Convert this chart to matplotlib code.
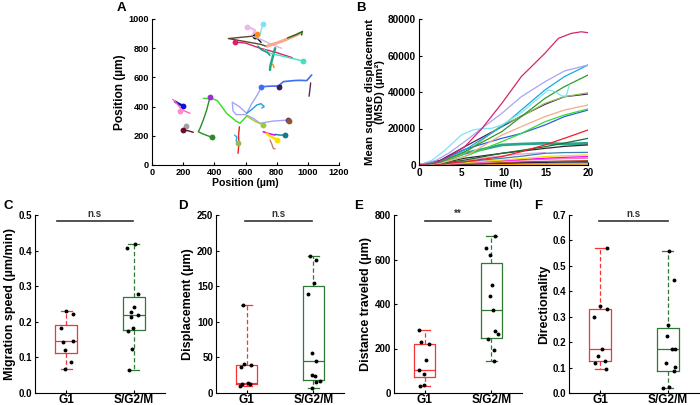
import matplotlib
matplotlib.use('Agg')
import matplotlib.pyplot as plt
import numpy as np

plt.rcParams['font.family'] = ['Liberation Sans', 'DejaVu Sans']
plt.rcParams['font.weight'] = 'bold'
plt.rcParams['axes.labelweight'] = 'bold'
plt.rcParams['axes.linewidth'] = 0.8

# ---------------- Panel A: trajectories (x, y in um) ----------------
trajA = [
    # (points, color, dot index or None, linewidth)
    ([(661, 884), (490, 866), (700, 826), (740, 810)], '#5a4a2a', None, 1.0),
    ([(661, 884), (675, 868), (690, 852), (700, 840)], '#111111', 0, 1.0),
    ([(612, 948), (645, 932), (662, 922), (650, 900)], '#f0b4ee', 0, 1.6),
    ([(714, 964), (702, 930), (693, 890), (680, 870)], '#7fe3f7', 0, 1.0),
    ([(672, 897), (665, 880)], '#ff8c1a', 0, 1.0),
    ([(533, 842), (600, 835), (693, 800), (800, 770), (900, 735)], '#d6246e', 0, 1.0),
    ([(650, 880), (700, 860), (760, 830), (830, 800)], '#c8b8f0', None, 1.0),
    ([(740, 815), (800, 835), (850, 855), (900, 878), (950, 902)], '#f7a98b', None, 2.2),
    ([(870, 870), (930, 895), (965, 915), (960, 890)], '#1a6b1a', None, 1.0),
    ([(790, 800), (780, 760), (770, 720), (760, 680), (757, 651)], '#22a884', None, 1.8),
    ([(971, 712), (900, 730), (820, 750), (757, 765), (720, 790)], '#40e0c0', 0, 1.0),
    ([(680, 815), (700, 790), (740, 770), (757, 750)], '#14967e', None, 1.0),
    ([(783, 668), (775, 690)], '#e89c2c', None, 1.2),
    ([(699, 536), (760, 540), (811, 541), (843, 571), (880, 575), (907, 578),
      (950, 580), (993, 578), (1025, 617)], '#3f6df5', 0, 1.2),
    ([(1018, 562), (1015, 530), (1008, 471)], '#5a2a5a', None, 1.0),
    ([(815, 536), (830, 545)], '#3d1f4d', 0, 1.0),
    ([(693, 514), (670, 470), (640, 420), (608, 354), (560, 400), (515, 430),
      (520, 370), (540, 345), (600, 345), (650, 320), (693, 286), (778, 301),
      (875, 308)], '#a9a3f5', None, 1.0),
    ([(608, 354), (640, 380), (672, 411), (700, 420), (720, 400), (705, 390)], '#21a0d8', None, 1.0),
    ([(329, 457), (393, 452), (420, 440), (479, 354), (540, 300), (565, 286),
      (608, 335)], '#33dd22', None, 1.0),
    ([(383, 190), (329, 212), (297, 228), (308, 251), (329, 308), (351, 377),
      (372, 464)], '#2a8a2a', 0, 1.0),
    ([(372, 464)], '#9a30d0', 0, 1.0),
    ([(197, 406), (170, 420), (148, 434)], '#1010d0', 0, 1.8),
    ([(133, 450), (160, 420), (190, 380), (220, 365), (244, 354)], '#ff69b4', None, 1.0),
    ([(180, 370)], '#ff8ccf', 0, 1.0),
    ([(218, 267)], '#a0a0a0', 0, 1.0),
    ([(197, 240), (230, 235), (265, 224)], '#6a0d2a', 0, 1.0),
    ([(561, 262), (555, 200), (558, 150), (554, 103), (552, 80)], '#e82020', None, 1.0),
    ([(530, 205), (545, 190), (540, 165), (548, 150)], '#22aaee', None, 1.0),
    ([(554, 148)], '#8fbf50', 0, 1.0),
    ([(608, 335), (660, 300), (714, 274)], '#9acd32', 2, 1.0),
    ([(714, 228), (750, 215), (789, 205)], '#ff00ff', None, 1.2),
    ([(800, 171), (790, 180), (760, 195), (735, 215)], '#f5e400', 0, 1.8),
    ([(853, 205), (820, 205), (790, 210)], '#157a8a', 0, 1.0),
    ([(757, 172), (770, 140), (778, 114), (790, 110)], '#c08070', None, 1.0),
    ([(875, 308)], '#6e3a6a', 0, 1.0),
    ([(880, 300)], '#8b5a2b', 0, 1.0),
]

# ---------------- Panel B: MSD curves ----------------
msd_crimson_t = [0, 2, 3.5, 5.4, 7.4, 9.8, 12.1, 14.9, 16.5, 18, 19.2, 20]
msd_crimson = [0, 1200, 4500, 10000, 19700, 33800, 48400, 61200, 69400, 72100, 73000, 72500]
msd_lav_t = [0, 2, 3.5, 5.4, 7.4, 9.8, 12.1, 14.9, 17.2, 20]
msd_lav = [0, 2500, 6400, 12800, 20000, 28300, 37400, 45600, 51500, 54800]
msd_cyan_t = [0, 1.5, 3.1, 5.0, 6.4, 7.4, 8.6, 9.8, 12.1, 14.1, 15.3, 16.1, 16.9, 17.4, 17.8]
msd_cyan = [0, 2500, 8200, 16400, 19200, 19900, 20100, 21900, 28700, 36500, 41100, 40200, 37800, 37800, 43800]
msd_t = [0, 2.5, 5.4, 9.8, 12.1, 14.9, 17.2, 20]
msd_sky = [0, 2000, 8200, 21000, 30100, 41100, 48400, 54800]
msd_forest = [0, 1500, 7300, 18300, 26500, 36500, 42900, 49300]
msd_olive = [0, 1500, 6400, 21900, 26500, 33800, 37400, 39600]
msd_purple = [0, 2500, 10000, 21000, 26800, 33200, 37400, 38900]
msd_salmon = [0, 1000, 4600, 16400, 21000, 26500, 30100, 32900]
msd_lime = [0, 1000, 4600, 12800, 17300, 23700, 27400, 30700]
msd_royal = [0, 2500, 8600, 14600, 17300, 21900, 26500, 30100]
msd_red = [0, 500, 1800, 4600, 7300, 11000, 14600, 19200]
msd_teal = [0, 1500, 6400, 11000, 11500, 11900, 11500, 11900]
msd_dkgreen = [0, 800, 2700, 6400, 8000, 10000, 12000, 14600]
msd_black = [0, 900, 3700, 6400, 7600, 9100, 10200, 11000]
msd_steel = [0, 500, 1800, 3700, 4800, 6400, 6800, 6900]
msd_yellow = [0, 400, 1300, 2700, 3500, 4600, 5100, 5500]
msd_magenta = [0, 400, 1300, 2400, 3000, 3700, 4200, 4600]
msd_pink = [0, 300, 1000, 2000, 2600, 3100, 3500, 3700]
msd_sienna = [0, 200, 700, 1300, 1700, 2000, 2200, 2400]
msd_navy = [0, 150, 500, 1000, 1300, 1500, 1700, 1800]
msd_gray = [0, 100, 400, 800, 1000, 1100, 1200, 1300]
msd_orange = [0, 50, 200, 350, 400, 450, 500, 550]
msd_tan = [0, 40, 150, 250, 300, 330, 360, 400]
msd_plum_t = [0, 2.5, 5.4, 9.8, 12.1, 14.9]
msd_plum = [0, 800, 2500, 5000, 6000, 6800]

# ---------------- Panels C-F: box plots ----------------
groups = ['G1', 'S/G2/M']

speed_g1 = [0.230, 0.221, 0.183, 0.147, 0.144, 0.122, 0.086, 0.068]
speed_s = [0.418, 0.407, 0.279, 0.242, 0.228, 0.218, 0.214, 0.183, 0.173, 0.123, 0.064]
speed_box = [(0.068, 0.113, 0.145, 0.192, 0.229), (0.064, 0.176, 0.219, 0.270, 0.418)]

disp_g1 = [123, 40.3, 39.9, 36.6, 14, 12.7, 12, 9.8]
disp_s = [192.3, 186.7, 154.8, 138.8, 56.3, 45, 25.3, 23.5, 17.4, 15.5, 7.5]
disp_box = [(10, 12, 14, 40, 123), (7.5, 18.8, 45, 150, 192)]

dist_g1 = [285, 229.6, 219, 150, 105, 87, 37.5, 31.5]
dist_s = [705, 650, 620, 485, 435, 375, 278, 263, 242, 195, 144]
dist_box = [(33, 72, 105, 219, 285), (144, 248, 375, 585, 705)]

dir_g1 = [0.569, 0.342, 0.332, 0.297, 0.172, 0.146, 0.126, 0.118, 0.096]
dir_s = [0.560, 0.444, 0.267, 0.225, 0.175, 0.175, 0.118, 0.102, 0.087, 0.021, 0.024]
dir_box = [(0.096, 0.124, 0.172, 0.332, 0.569), (0.020, 0.087, 0.172, 0.255, 0.560)]

LET_FS = 9.5

fig = plt.figure(figsize=(7.0, 4.05), dpi=100)


def style(ax, fs):
    ax.spines['top'].set_visible(False)
    ax.spines['right'].set_visible(False)
    ax.tick_params(direction='in', length=2.5, width=0.8, labelsize=fs, pad=2)
    for lab in ax.get_xticklabels() + ax.get_yticklabels():
        lab.set_fontweight('bold')


def fx(px):
    return px / 700.0


def fy(py):
    return 1 - py / 405.0


# Panel A
axA = fig.add_axes([fx(152), fy(165), fx(339) - fx(152), fy(19) - fy(165)])
for pts, col, dot, lw in trajA:
    xs = [p[0] for p in pts]
    ys = [p[1] for p in pts]
    if len(pts) > 1:
        axA.plot(xs, ys, color=col, lw=lw, solid_capstyle='round')
    if dot is not None:
        axA.plot(xs[dot], ys[dot], 'o', color=col, ms=4.2, mec='none')
axA.set_xlim(0, 1200)
axA.set_ylim(0, 1000)
axA.set_xticks([0, 200, 400, 600, 800, 1000, 1200])
axA.set_yticks([0, 200, 400, 600, 800, 1000])
axA.set_xlabel('Position (µm)', fontsize=7.6, labelpad=1)
axA.set_ylabel('Position (µm)', fontsize=8.6, labelpad=2)
style(axA, 6.6)

# Panel B
axB = fig.add_axes([fx(419), fy(165), fx(588) - fx(419), fy(19) - fy(165)])
low_curves = [
    (msd_tan, '#d2b48c'), (msd_orange, '#ffa500'), (msd_gray, '#888888'),
    (msd_navy, '#101050'), (msd_sienna, '#a0522d'), (msd_pink, '#ff77c0'),
    (msd_magenta, '#ff00ff'), (msd_yellow, '#f0e000'), (msd_steel, '#3a7fb5'),
    (msd_black, '#2a2a2a'), (msd_dkgreen, '#1f6b3a'), (msd_red, '#ee2222'),
    (msd_royal, '#2d5fe0'), (msd_lime, '#33dd33'), (msd_salmon, '#f7a98b'),
    (msd_purple, '#4b1d5e'), (msd_olive, '#8fbf50'), (msd_forest, '#2f9a2f'),
    (msd_sky, '#1aa7e0'),
]
axB.plot(msd_plum_t, msd_plum, color='#e0a0d8', lw=0.9)
axB.plot(msd_t, msd_teal, color='#2ca58d', lw=2.0)
for vals, col in low_curves:
    axB.plot(msd_t, vals, color=col, lw=0.9)
axB.plot(msd_cyan_t, msd_cyan, color='#7fe3f7', lw=0.9)
axB.plot(msd_lav_t, msd_lav, color='#a9a3f5', lw=0.9)
axB.plot(msd_crimson_t, msd_crimson, color='#d6246e', lw=0.9)
axB.set_xlim(0, 20)
axB.set_ylim(0, 80000)
axB.set_xticks([0, 5, 10, 15, 20])
axB.set_yticks([0, 20000, 40000, 60000, 80000])
axB.set_xlabel('Time (h)', fontsize=7.0, labelpad=1)
axB.set_ylabel('Mean square displacement\n(MSD) (µm²)', fontsize=8.2, labelpad=2, linespacing=1.05)
style(axB, 7.2)

RED = '#f53535'
GREEN = '#2f7a33'


def boxpanel(left, width, g1, s, boxes, ylim, yticks, ylabel, sig, barx, seed):
    ax = fig.add_axes([fx(left), fy(393), width / 700.0, fy(215) - fy(393)])
    cols = [RED, GREEN]
    stats = []
    for b in boxes:
        stats.append(dict(whislo=b[0], q1=b[1], med=b[2], q3=b[3], whishi=b[4], fliers=[]))
    for i, st in enumerate(stats):
        c = cols[i]
        ax.bxp([st], positions=[i + 1], widths=0.32, showfliers=False,
               boxprops=dict(color=c, lw=0.9),
               medianprops=dict(color=c, lw=0.9),
               whiskerprops=dict(color=c, lw=0.9, ls=(0, (3.5, 2))),
               capprops=dict(color=c, lw=0.9), capwidths=0.16)
    rng = np.random.default_rng(seed)
    for i, pts in enumerate([g1, s]):
        jit = rng.uniform(-0.11, 0.11, len(pts))
        ax.plot(i + 1 + jit, pts, 'o', color='black', ms=2.8, mec='none', zorder=5)
    ax.set_xlim(0.54, 2.46)
    ax.set_ylim(*ylim)
    ax.set_yticks(yticks)
    ax.set_xticks([1, 2])
    ax.set_xticklabels(groups)
    ax.set_ylabel(ylabel, fontsize=9.0, labelpad=2)
    style(ax, 7.0)
    ax.tick_params(axis='x', pad=1)
    for lab in ax.get_xticklabels():
        lab.set_fontsize(8.6)
    yb = ylim[0] + 0.967 * (ylim[1] - ylim[0])
    ax.plot(barx, [yb, yb], color='#333333', lw=1.2, clip_on=False)
    ax.text(np.mean(barx), yb + 0.012 * (ylim[1] - ylim[0]), sig, ha='center', va='bottom',
            fontsize=7.0, fontweight='bold', color='#333333')
    return ax


boxpanel(35, 130, speed_g1, speed_s, speed_box, (0, 0.5), [0, 0.1, 0.2, 0.3, 0.4, 0.5],
         'Migration speed (µm/min)', 'n.s', [0.86, 1.98], 1)
boxpanel(216, 128, disp_g1, disp_s, disp_box, (0, 250), [0, 50, 100, 150, 200, 250],
         'Displacement (µm)', 'n.s', [0.98, 1.98], 2)
boxpanel(394, 128, dist_g1, dist_s, dist_box, (0, 800), [0, 200, 400, 600, 800],
         'Distance traveled (µm)', '**', [1.0, 1.99], 3)
boxpanel(569, 130, dir_g1, dir_s, dir_box, (0, 0.7), [0, 0.1, 0.2, 0.3, 0.4, 0.5, 0.6, 0.7],
         'Directionality', 'n.s', [0.99, 2.0], 4)

# Panel letters
for letter, x, y in [('A', 117, 8), ('B', 356, 8), ('C', 4, 206), ('D', 178, 206),
                     ('E', 354, 206), ('F', 534, 206)]:
    fig.text(fx(x), fy(y), letter, fontsize=LET_FS, fontweight='bold', ha='left', va='center')

fig.savefig('out.png', dpi=100)
